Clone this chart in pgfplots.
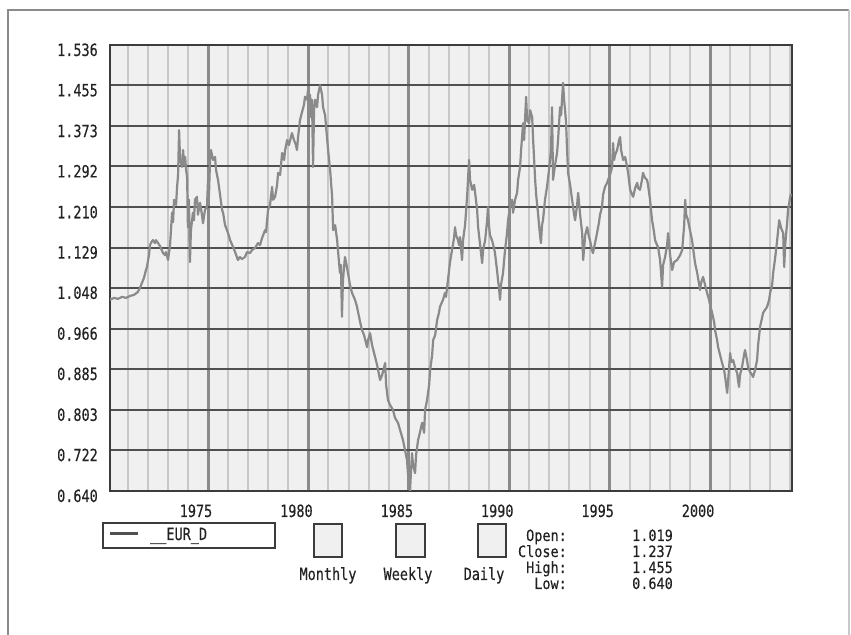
\documentclass[border=0pt]{standalone}
\usepackage{fontspec}
\usepackage{graphicx}
\setmainfont{DejaVu Sans}
\newfontfamily\monofont[FakeBold=0.4]{DejaVu Sans Mono}
\usepackage{pgfplots}
\usepackage{pgfplotstable}
\pgfplotsset{compat=1.18}
\newcommand{\tl}[1]{\scalebox{1}[1.25]{#1}}
\newcommand{\stl}[1]{\scalebox{1}[1.15]{#1}}
\definecolor{bgc}{HTML}{F0F0F0}
\definecolor{framec}{HTML}{3C3C3C}
\definecolor{hgrid}{HTML}{505050}
\definecolor{vmajor}{HTML}{8A8A8A}
\definecolor{vminor}{HTML}{C8C8C8}
\definecolor{linec}{HTML}{8A8A8A}
\definecolor{outer}{HTML}{8A8A8A}
\definecolor{txt}{HTML}{222222}
\pgfplotstableread{
year value
1970.12 1.024
1970.32 1.028
1970.52 1.026
1970.72 1.030
1970.92 1.028
1971.12 1.032
1971.32 1.034
1971.51 1.040
1971.61 1.048
1971.71 1.058
1971.81 1.068
1971.91 1.084
1971.96 1.090
1972.06 1.114
1972.11 1.134
1972.21 1.142
1972.26 1.144
1972.36 1.138
1972.41 1.144
1972.51 1.138
1972.61 1.132
1972.76 1.118
1972.86 1.114
1972.91 1.120
1973.01 1.104
1973.11 1.134
1973.21 1.199
1973.26 1.180
1973.31 1.225
1973.41 1.215
1973.46 1.251
1973.51 1.275
1973.56 1.365
1973.61 1.305
1973.71 1.291
1973.76 1.325
1973.81 1.295
1973.86 1.311
1973.91 1.285
1973.96 1.271
1974.00 1.170
1974.05 1.225
1974.10 1.100
1974.15 1.164
1974.25 1.199
1974.30 1.184
1974.35 1.225
1974.45 1.231
1974.50 1.195
1974.60 1.219
1974.70 1.195
1974.75 1.178
1974.85 1.205
1974.95 1.211
1975.00 1.265
1975.05 1.235
1975.10 1.305
1975.15 1.325
1975.25 1.305
1975.35 1.311
1975.40 1.285
1975.50 1.265
1975.60 1.235
1975.70 1.205
1975.75 1.199
1975.85 1.174
1976.00 1.158
1976.10 1.144
1976.25 1.130
1976.35 1.120
1976.49 1.104
1976.59 1.110
1976.69 1.106
1976.84 1.110
1976.94 1.120
1977.09 1.118
1977.19 1.124
1977.34 1.128
1977.49 1.138
1977.59 1.134
1977.69 1.148
1977.84 1.164
1977.89 1.160
1977.99 1.205
1978.09 1.215
1978.19 1.251
1978.24 1.225
1978.34 1.231
1978.44 1.255
1978.49 1.279
1978.59 1.275
1978.69 1.319
1978.79 1.305
1978.84 1.325
1978.94 1.345
1979.03 1.335
1979.18 1.359
1979.28 1.345
1979.38 1.335
1979.43 1.325
1979.48 1.349
1979.58 1.385
1979.68 1.401
1979.78 1.416
1979.83 1.432
1979.93 1.426
1979.98 1.446
1980.03 1.426
1980.08 1.436
1980.13 1.391
1980.18 1.426
1980.23 1.291
1980.28 1.405
1980.33 1.426
1980.43 1.411
1980.48 1.436
1980.58 1.455
1980.68 1.436
1980.73 1.411
1980.83 1.395
1980.98 1.325
1981.08 1.285
1981.18 1.231
1981.23 1.164
1981.33 1.174
1981.43 1.144
1981.47 1.124
1981.57 1.078
1981.62 1.094
1981.67 0.990
1981.72 1.064
1981.82 1.110
1981.87 1.100
1981.97 1.078
1982.07 1.054
1982.17 1.038
1982.32 1.024
1982.42 1.010
1982.57 0.980
1982.67 0.963
1982.77 0.953
1982.92 0.929
1982.97 0.943
1983.07 0.957
1983.17 0.933
1983.32 0.909
1983.42 0.893
1983.57 0.863
1983.67 0.873
1983.77 0.889
1983.82 0.897
1983.87 0.853
1983.96 0.823
1984.06 0.813
1984.21 0.803
1984.31 0.787
1984.46 0.777
1984.56 0.763
1984.71 0.742
1984.81 0.722
1984.91 0.702
1984.96 0.672
1985.01 0.682
1985.06 0.640
1985.11 0.682
1985.16 0.716
1985.21 0.692
1985.31 0.676
1985.36 0.712
1985.46 0.742
1985.56 0.759
1985.66 0.777
1985.76 0.757
1985.81 0.803
1985.91 0.823
1986.01 0.853
1986.06 0.883
1986.16 0.913
1986.21 0.943
1986.31 0.953
1986.41 0.984
1986.50 0.998
1986.55 1.010
1986.70 1.024
1986.80 1.038
1986.85 1.030
1986.95 1.064
1987.05 1.100
1987.15 1.124
1987.25 1.148
1987.30 1.170
1987.35 1.154
1987.45 1.144
1987.50 1.134
1987.55 1.150
1987.65 1.104
1987.70 1.144
1987.80 1.174
1987.90 1.231
1988.00 1.305
1988.05 1.265
1988.15 1.245
1988.25 1.255
1988.30 1.239
1988.40 1.205
1988.45 1.170
1988.55 1.134
1988.65 1.098
1988.70 1.124
1988.80 1.144
1988.90 1.184
1988.94 1.211
1988.99 1.174
1989.04 1.154
1989.14 1.144
1989.24 1.128
1989.29 1.118
1989.39 1.084
1989.44 1.064
1989.49 1.048
1989.54 1.024
1989.59 1.054
1989.69 1.078
1989.79 1.124
1989.89 1.158
1989.94 1.184
1990.04 1.211
1990.14 1.225
1990.19 1.199
1990.29 1.225
1990.39 1.239
1990.44 1.265
1990.54 1.291
1990.59 1.325
1990.69 1.379
1990.74 1.345
1990.84 1.432
1990.89 1.385
1990.99 1.379
1991.04 1.405
1991.14 1.391
1991.19 1.345
1991.29 1.265
1991.34 1.235
1991.43 1.199
1991.53 1.154
1991.58 1.138
1991.63 1.174
1991.68 1.184
1991.78 1.225
1991.88 1.251
1991.98 1.285
1992.03 1.305
1992.08 1.325
1992.13 1.411
1992.18 1.265
1992.28 1.295
1992.38 1.319
1992.43 1.345
1992.53 1.411
1992.58 1.395
1992.68 1.460
1992.73 1.426
1992.78 1.405
1992.83 1.379
1992.88 1.325
1992.93 1.279
1993.03 1.255
1993.13 1.225
1993.23 1.195
1993.28 1.184
1993.38 1.215
1993.43 1.239
1993.53 1.195
1993.63 1.158
1993.68 1.104
1993.78 1.154
1993.88 1.170
1993.97 1.150
1994.02 1.144
1994.12 1.124
1994.17 1.118
1994.27 1.138
1994.37 1.158
1994.47 1.180
1994.52 1.195
1994.62 1.211
1994.67 1.235
1994.77 1.251
1994.87 1.259
1994.92 1.265
1995.02 1.275
1995.12 1.291
1995.17 1.339
1995.22 1.305
1995.27 1.315
1995.37 1.325
1995.47 1.345
1995.52 1.351
1995.57 1.325
1995.67 1.305
1995.77 1.311
1995.87 1.291
1995.92 1.279
1996.02 1.245
1996.12 1.235
1996.17 1.231
1996.27 1.249
1996.37 1.259
1996.41 1.249
1996.51 1.245
1996.61 1.265
1996.66 1.279
1996.76 1.269
1996.86 1.265
1996.91 1.255
1997.01 1.225
1997.11 1.184
1997.21 1.160
1997.26 1.144
1997.36 1.134
1997.41 1.130
1997.51 1.104
1997.61 1.050
1997.66 1.094
1997.76 1.110
1997.86 1.134
1997.91 1.158
1998.01 1.114
1998.11 1.084
1998.21 1.100
1998.36 1.104
1998.51 1.114
1998.61 1.124
1998.71 1.174
1998.76 1.225
1998.81 1.195
1998.90 1.184
1999.00 1.164
1999.10 1.144
1999.20 1.114
1999.25 1.098
1999.35 1.080
1999.50 1.044
1999.55 1.058
1999.65 1.070
1999.75 1.054
1999.85 1.038
1999.95 1.024
2000.00 1.014
2000.10 0.998
2000.20 0.980
2000.25 0.963
2000.35 0.943
2000.40 0.929
2000.50 0.913
2000.60 0.897
2000.70 0.883
2000.75 0.869
2000.80 0.853
2000.85 0.837
2000.90 0.863
2001.00 0.917
2001.05 0.899
2001.15 0.903
2001.25 0.887
2001.35 0.877
2001.39 0.863
2001.44 0.849
2001.49 0.873
2001.59 0.889
2001.69 0.913
2001.74 0.923
2001.84 0.903
2001.89 0.889
2001.99 0.879
2002.09 0.873
2002.14 0.869
2002.24 0.883
2002.34 0.903
2002.39 0.933
2002.49 0.970
2002.59 0.988
2002.64 0.998
2002.74 1.004
2002.84 1.010
2002.94 1.024
2002.99 1.038
2003.09 1.054
2003.14 1.078
2003.24 1.108
2003.34 1.144
2003.39 1.164
2003.44 1.184
2003.54 1.168
2003.64 1.158
2003.69 1.090
2003.74 1.134
2003.79 1.158
2003.84 1.180
2003.88 1.205
2003.93 1.215
2003.98 1.229
2004.03 1.237
}\eurdata
\begin{document}
\begin{tikzpicture}[x=1bp,y=1bp]
\path[use as bounding box] (0,0) rectangle (851,635);
\draw[color=outer, line width=1.5bp] (8,0) -- (8,625) -- (849,625);
\draw[color=vminor, line width=1.2bp] (849,625) -- (849,0);
\begin{axis}[
  at={(110bp,144bp)}, anchor=south west,
  scale only axis, width=682bp, height=446bp,
  xmin=1970.12, xmax=2004.08, ymin=0.640, ymax=1.536,
  xtick={1975,1980,1985,1990,1995,2000},
  xticklabels={\tl{1975},\tl{1980},\tl{1985},\tl{1990},\tl{1995},\tl{2000}},
  minor xtick={1971,1972,...,2004},
  ytick={0.640,0.722,0.803,0.885,0.966,1.048,1.129,1.210,1.292,1.373,1.455,1.536},
  yticklabels={\tl{0.640},\tl{0.722},\tl{0.803},\tl{0.885},\tl{0.966},\tl{1.048},\tl{1.129},\tl{1.210},\tl{1.292},\tl{1.373},\tl{1.455},\tl{1.536}},
  major tick length=0pt, minor tick length=0pt,
  tick style={draw=none},
  xmajorgrids, xminorgrids, ymajorgrids,
  major x grid style={color=vmajor, line width=3bp},
  minor x grid style={color=vminor, line width=2bp},
  major y grid style={color=hgrid, line width=2bp},
  axis background/.style={fill=bgc},
  axis line style={draw=framec, line width=2bp},
  tick label style={font=\monofont\fontsize{13.5bp}{16bp}\selectfont, text=txt},
  xticklabel style={anchor=base, xshift=-12bp, yshift=-26bp},
  yticklabel style={anchor=base east, inner xsep=0pt, inner ysep=0pt, xshift=-12bp, yshift=-11bp},
]
\addplot[color=linec, line width=2.2bp, line join=round] table[x=year, y=value] {\eurdata};
\end{axis}
% legend box
\draw[color=framec, line width=1.5bp] (103,112) rectangle (275,87);
\draw[color=hgrid, line width=3bp] (110,101) -- (138,101);
\node[anchor=base west, inner sep=0pt, text=txt, font=\monofont\fontsize{13.5bp}{16bp}\selectfont] at (150,95) {\tl{\_\_EUR\_D}};
% period boxes
\foreach \xa/\xb in {314/342, 396/425, 478/506}{
  \draw[color=framec, fill=bgc, line width=1.5bp] (\xa,111) rectangle (\xb,78);
}
\begin{scope}[every node/.style={inner sep=0pt, text=txt, font=\monofont\fontsize{13.5bp}{16bp}\selectfont}]
\node[anchor=base] at (328,55) {\tl{Monthly}};
\node[anchor=base] at (408,55) {\tl{Weekly}};
\node[anchor=base] at (484,55) {\tl{Daily}};
\node[anchor=base east] at (567,94) {\stl{Open:}};
\node[anchor=base east] at (567,78) {\stl{Close:}};
\node[anchor=base east] at (567,62) {\stl{High:}};
\node[anchor=base east] at (567,46) {\stl{Low:}};
\node[anchor=base east] at (673,94) {\stl{1.019}};
\node[anchor=base east] at (673,78) {\stl{1.237}};
\node[anchor=base east] at (673,62) {\stl{1.455}};
\node[anchor=base east] at (673,46) {\stl{0.640}};
\end{scope}
\end{tikzpicture}
\end{document}
